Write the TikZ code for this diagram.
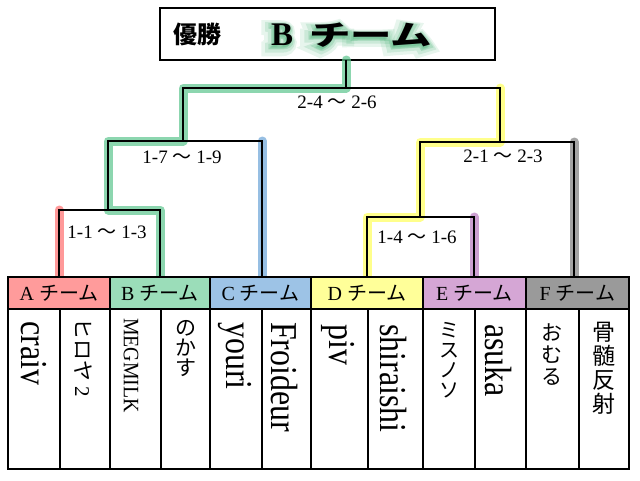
\documentclass[tikz,border=0pt]{standalone}
\usepackage{fontspec}
\setmainfont{Liberation Serif}
\newfontfamily\jp{Noto Sans CJK JP}
\newfontfamily\jpglowA{Noto Sans CJK JP}[FakeBold=44]
\newfontfamily\serglowA{Liberation Serif}[FakeBold=44]
\newfontfamily\jpglowB{Noto Sans CJK JP}[FakeBold=28]
\newfontfamily\serglowB{Liberation Serif}[FakeBold=28]
\newfontfamily\jpglowC{Noto Sans CJK JP}[FakeBold=14]
\newfontfamily\serglowC{Liberation Serif}[FakeBold=14]
\definecolor{cA}{HTML}{FF9B9B}
\definecolor{cB}{HTML}{9BDDB9}
\definecolor{cC}{HTML}{9DC3E6}
\definecolor{cD}{HTML}{FFFF99}
\definecolor{cE}{HTML}{D5A6D5}
\definecolor{cF}{HTML}{9A9A9A}
\definecolor{gRed}{HTML}{FF6F6F}
\definecolor{gGreen}{HTML}{5CC58E}
\definecolor{gBlue}{HTML}{6BA5D8}
\definecolor{gYellow}{HTML}{FFFF5A}
\definecolor{gPurple}{HTML}{B978C0}
\definecolor{gGray}{HTML}{7F7F7F}
\definecolor{glowc}{HTML}{3FAF6F}
\newcommand{\champtext}[2]{{#1\fontsize{33}{40}\selectfont\bfseries B}\hspace{16pt}{#2\bfseries\fontsize{28}{34}\selectfont\scalebox{1.48}[1]{チーム}}}
\newcommand{\tl}{{\jp ～}}
\begin{document}
\begin{tikzpicture}[x=1pt,y=-1pt,
  bk/.style={line width=2pt},
  hl/.style={line width=9pt, line cap=round, line join=round, opacity=0.7},
  hdr/.style={draw, line width=2pt, minimum height=32pt, inner sep=0pt, font=\fontsize{20}{24}\selectfont},
  lbl/.style={inner sep=0pt, font=\fontsize{19}{21}\selectfont},
  latn/.style={rotate=-90, anchor=west, inner sep=0pt, font=\fontsize{38}{40}\selectfont},
  vjp/.style={anchor=north, inner sep=0pt, align=center},
  glow/.style={anchor=base west, inner sep=0pt, text=glowc},
  tb/.style={line width=2pt}]
\useasboundingbox (0,0) rectangle (640,480);
\fill[white] (0,0) rectangle (640,480);

% title box
\node[draw, line width=2pt, minimum width=335pt, minimum height=52pt, inner sep=0pt] (title) at (327.5,34) {};
\node[font=\jp\bfseries\fontsize{24}{28}\selectfont, inner sep=0pt] (win) at (197,34) {優勝};
\node[glow, opacity=0.12] (glowA) at (268,49) {\champtext{\serglowA}{\jpglowA}};
\node[glow, opacity=0.16] (glowB) at (269,48) {\champtext{\serglowB}{\jpglowB}};
\node[glow, opacity=0.22] (glowC) at (270,47) {\champtext{\serglowC}{\jpglowC}};
\node[anchor=base west, inner sep=0pt] (champ) at (271,45) {\champtext{}{\jp}};

% bracket joints
\coordinate (mAB) at (108,210);
\coordinate (mABC) at (183,141);
\coordinate (mF) at (346,88);
\coordinate (mDE) at (420,217);
\coordinate (mDEF) at (500,142);
\coordinate (pA) at (59,277);
\coordinate (pB) at (160,277);
\coordinate (pC) at (262,277);
\coordinate (pD) at (367,277);
\coordinate (pE) at (474,277);
\coordinate (pF) at (574,277);
\coordinate (tS) at (346,60);

% highlights
\draw[hl, gGreen] (pB) |- (mAB) |- (mABC) |- (mF) -- (tS);
\draw[hl, gRed] (pA) -- (pA |- mAB);
\draw[hl, gBlue] (pC) -- (pC |- mABC);
\draw[hl, gYellow] (pD) |- (mDE) |- (mDEF) -- (mDEF |- mF);
\draw[hl, gPurple] (pE) -- (pE |- mDE);
\draw[hl, gGray] (pF) -- (pF |- mDEF);

% brackets
\draw[bk] (pA) |- (mAB) -| (pB);
\draw[bk] (mAB) |- (mABC) -| (pC);
\draw[bk] (mABC) |- (mF) -| (mDEF);
\draw[bk] (pD) |- (mDE) -| (pE);
\draw[bk] (mDE) |- (mDEF) -| (pF);
\draw[bk] (mF) -- (tS);

% labels
\node[lbl] (l1) at (107,232) {1-1 \tl\ 1-3};
\node[lbl] (l2) at (182,157) {1-7 \tl\ 1-9};
\node[lbl] (l3) at (337,102) {2-4 \tl\ 2-6};
\node[lbl] (l4) at (503,156) {2-1 \tl\ 2-3};
\node[lbl] (l5) at (417,237) {1-4 \tl\ 1-6};

% header row
\node[hdr, fill=cA, minimum width=102pt] (hA) at (59,293) {A {\jp チーム}};
\node[hdr, fill=cB, minimum width=100pt] (hB) at (160,293) {B {\jp チーム}};
\node[hdr, fill=cC, minimum width=101pt] (hC) at (260.5,293) {C {\jp チーム}};
\node[hdr, fill=cD, minimum width=112pt] (hD) at (367,293) {D {\jp チーム}};
\node[hdr, fill=cE, minimum width=103pt] (hE) at (474.5,293) {E {\jp チーム}};
\node[hdr, fill=cF, minimum width=103pt] (hF) at (577.5,293) {F {\jp チーム}};

% table body
\draw[tb] (8,309) -- (629,309);
\foreach \x in {110,210,311,423,526} \draw[tb] (\x,277) -- (\x,469);
\foreach \x in {60,161,262,368,475,579} \draw[tb] (\x,309) -- (\x,469);
\draw[line width=2.5pt] (8,277) rectangle (629,469);

% names
\node[latn] (n1) at (34,321) {\scalebox{0.84}[1]{craiv}};
\node[rotate=-90, anchor=west, inner sep=0pt, font=\fontsize{21}{24}\selectfont] (n2) at (83,318) {{\jp ヒロヤ} 2};
\node[rotate=-90, anchor=west, inner sep=0pt, font=\fontsize{22}{24}\selectfont] (n3) at (131,318) {\scalebox{0.9}[1]{MEGMILK}};
\node[vjp, font=\jp\fontsize{21}{20}\selectfont] (n4) at (186,320) {の\\か\\す};
\node[latn] (n5) at (235,322) {\scalebox{0.84}[1]{youri}};
\node[latn] (n6) at (284,322) {\scalebox{0.84}[1]{Froideur}};
\node[latn] (n7) at (338,324) {\scalebox{0.84}[1]{piv}};
\node[latn] (n8) at (393,324) {\scalebox{0.84}[1]{shiraishi}};
\node[vjp, font=\jp\fontsize{20}{20}\selectfont] (n9) at (449,322) {ミ\\ス\\ノ\\ソ};
\node[latn] (n10) at (498,324) {\scalebox{0.84}[1]{asuka}};
\node[vjp, font=\jp\fontsize{21}{22}\selectfont] (n11) at (552,324) {お\\む\\る};
\node[vjp, font=\jp\fontsize{23}{24}\selectfont] (n12) at (604,322) {骨\\髄\\反\\射};
\end{tikzpicture}
\end{document}
